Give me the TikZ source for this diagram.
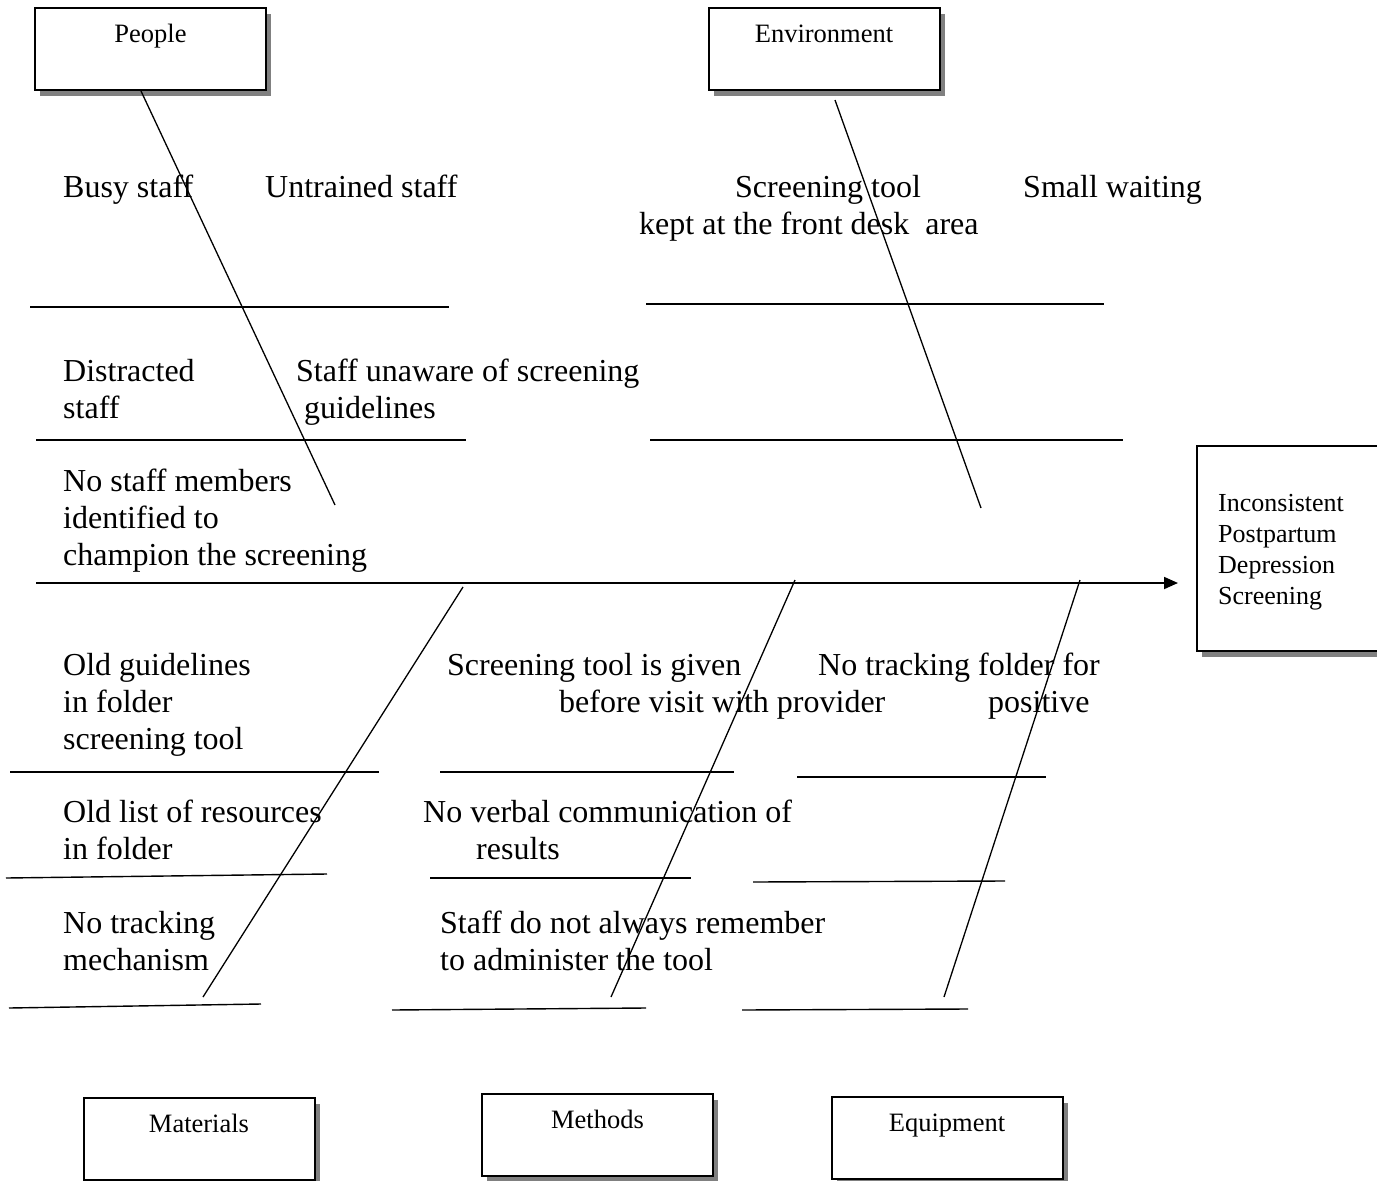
\documentclass[tikz,border=0pt]{standalone}
\usepackage{fontspec}
\setmainfont{Liberation Serif}
\usetikzlibrary{arrows.meta}
\usetikzlibrary{shadows}

\tikzset{
  catbox/.style={draw, line width=2pt, fill=white, minimum width=231pt, minimum height=82pt,
    drop shadow={shadow xshift=5pt, shadow yshift=-6pt, fill=gray, opacity=1}},
  boxlabel/.style={anchor=base, yshift=-35pt, font=\fontsize{26.5}{30}\selectfont},
  item/.style={anchor=base west, inner sep=0pt, font=\fontsize{32}{37}\selectfont},
  efftext/.style={anchor=base west, inner sep=0pt, font=\fontsize{26}{31}\selectfont},
  thickrule/.style={line width=2.6pt},
  thinrule/.style={line width=1.4pt},
  bone/.style={line width=1.3pt}
}

\begin{document}
\begin{tikzpicture}[x=1pt,y=-1pt]
    \useasboundingbox (0,0) rectangle (1377,1181);
    %% category boxes
    \node[catbox, label={[boxlabel]north:People}] (people) at (150.5,49) {};
    \node[catbox, label={[boxlabel]north:Environment}] (envir) at (824,49) {};
    \node[catbox, label={[boxlabel]north:Materials}] (mater) at (199,1139) {};
    \node[catbox, label={[boxlabel]north:Methods}] (meth) at (597.5,1135) {};
    \node[catbox, label={[boxlabel]north:Equipment}] (equip) at (947,1138) {};
    %% effect
    \node[catbox, minimum width=200pt, minimum height=205pt] (effect) at (1297,548.5) {};
    \foreach \t [count=\i] in {Inconsistent,Postpartum,Depression,Screening}
      \node[efftext] (eff\i) at (1218,{480+31*\i}) {\t};
    %% spine
    \coordinate (tail) at (36,583);
    \coordinate (head) at (1178,583);
    \draw [line width=1.8pt, -{Triangle[length=14pt,width=12pt]}] (tail) -- (head);
    %% bones
    \coordinate (pp) at (335,505);
    \coordinate (ee1) at (835,100);
    \coordinate (ee2) at (981,508);
    \coordinate (ma1) at (463,587);
    \coordinate (ma2) at (203,997);
    \coordinate (me1) at (795,580);
    \coordinate (me2) at (611,997);
    \coordinate (eq1) at (1080,580);
    \coordinate (eq2) at (944,997);
    \draw [bone] ([xshift=-9.5pt]people.south) -- (pp);
    \draw [bone] (ee1) -- (ee2);
    \draw [bone] (ma1) -- (ma2);
    \draw [bone] (me1) -- (me2);
    \draw [bone] (eq1) -- (eq2);
    %% rules
    \draw [thickrule] (30,307) -- (449,307);
    \draw [thinrule] (646,304) -- (1104,304);
    \draw [thinrule, line width=2pt] (36,440) -- (466,440);
    \draw [thinrule, line width=2pt] (650,440) -- (1123,440);
    \draw [thickrule] (10,772) -- (379,772);
    \draw [thickrule] (440,772) -- (734,772);
    \draw [thinrule, line width=1.8pt] (797,777) -- (1046,777);
    \draw [thinrule] (6,878) -- (327,874);
    \draw [thickrule] (430,878) -- (691,878);
    \draw [thinrule] (753,882) -- (1005,881);
    \draw [thinrule] (9,1008) -- (261,1004);
    \draw [thinrule] (392,1010) -- (646,1008);
    \draw [thinrule] (742,1010) -- (968,1009);
    %% people
    \node[item] (busy) at (63,197) {Busy staff};
    \node[item] (untr) at (265,197) {Untrained staff};
    \node[item] (dist1) at (63,381) {Distracted};
    \node[item] (dist2) at (63,418) {staff};
    \node[item] (unaw1) at (296,381) {Staff unaware of screening};
    \node[item] (unaw2) at (304,418) {guidelines};
    \node[item] (champ1) at (63,491) {No staff members};
    \node[item] (champ2) at (63,528) {identified to};
    \node[item] (champ3) at (63,565) {champion the screening};
    %% environment
    \node[item] (desk1) at (735,197) {Screening tool};
    \node[item] (desk2) at (639,234) {kept at the front desk\ \ area};
    \node[item] (wait) at (1023,197) {Small waiting};
    %% materials
    \node[item] (guid1) at (63,675) {Old guidelines};
    \node[item] (guid2) at (63,712) {in folder};
    \node[item] (guid3) at (63,749) {screening tool};
    \node[item] (res1) at (63,822) {Old list of resources};
    \node[item] (res2) at (63,859) {in folder};
    \node[item] (track1) at (63,933) {No tracking};
    \node[item] (track2) at (63,970) {mechanism};
    %% methods
    \node[item] (given1) at (447,675) {Screening tool is given};
    \node[item] (given2) at (559,712) {before visit with provider};
    \node[item] (verb1) at (423,822) {No verbal communication of};
    \node[item] (verb2) at (476,859) {results};
    \node[item] (rem1) at (440,933) {Staff do not always remember};
    \node[item] (rem2) at (440,970) {to administer the tool};
    %% equipment
    \node[item] (fold1) at (818,675) {No tracking folder for};
    \node[item] (fold2) at (988,712) {positive};
  \end{tikzpicture}
\end{document}
